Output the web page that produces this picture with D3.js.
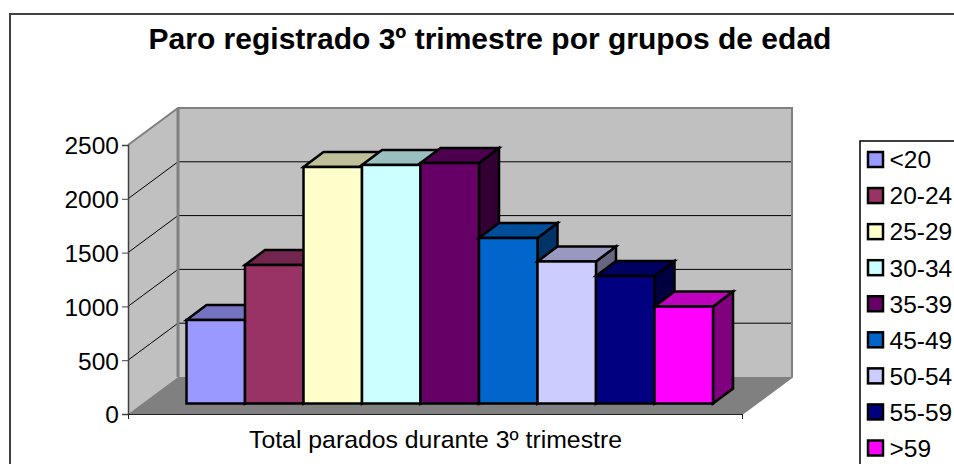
<!DOCTYPE html>
<html>
<head>
<meta charset="utf-8">
<script src="https://cdn.jsdelivr.net/npm/d3@7"></script>
<style>
html, body { margin: 0; padding: 0; background: #fff; overflow: hidden; }
text { font-family: "Liberation Sans", Arial, sans-serif; fill: #000; }
</style>
</head>
<body>
<div id="chart"></div>
<script>
var ageGroups = ["<20", "20-24", "25-29", "30-34", "35-39", "45-49", "50-54", "55-59", ">59"];
var parados = [776, 1287, 2198, 2217, 2235, 1538, 1320, 1185, 901];
var barColors = ["#9999FF", "#993366", "#FFFFCC", "#CCFFFF", "#660066", "#0066CC", "#CCCCFF", "#000080", "#FF00FF"];
var yTicks = [0, 500, 1000, 1500, 2000, 2500];

var svg = d3.select("#chart").append("svg")
	.attr("width", 954)
	.attr("height", 464);

// frame
svg.append("path")
	.attr("d", "M10,464V14H954")
	.attr("fill", "none")
	.attr("stroke", "#404040")
	.attr("stroke-width", 2);

svg.append("text")
	.attr("x", 490)
	.attr("y", 49)
	.attr("text-anchor", "middle")
	.style("font-size", "30px")
	.style("font-weight", "bold")
	.text("Paro registrado 3º trimestre por grupos de edad");

var y = d3.scaleLinear().domain([0, 2500]).range([414, 145]);
var xFront = d3.scaleLinear().domain([0, 1]).range([128, 742]);
var xBars = d3.scaleBand().domain(ageGroups).range([186.5, 713]);

// wall depth and bar depth
var wallDx = 50, wallDy = -37;
var barDx = 20, barDy = -15;
var barLift = 10.5;

// walls and floor
svg.append("path")
	.attr("d", d3.line()([[128, y(2500)], [128 + wallDx, y(2500) + wallDy], [128 + wallDx, y(0) + wallDy], [128, y(0)]]) + "Z")
	.attr("fill", "#C0C0C0");
svg.append("rect")
	.attr("x", 128 + wallDx)
	.attr("y", y(2500) + wallDy)
	.attr("width", 614)
	.attr("height", y(0) - y(2500))
	.attr("fill", "#C0C0C0");
svg.append("path")
	.attr("d", d3.line()([[128, y(0)], [128 + wallDx, y(0) + wallDy], [742 + wallDx, y(0) + wallDy], [742, y(0)]]) + "Z")
	.attr("fill", "#808080");

// gridlines on both walls
svg.selectAll("path.grid")
	.data(yTicks.slice(1, 5))
	.enter()
	.append("path")
	.attr("class", "grid")
	.attr("fill", "none")
	.attr("stroke", "#000")
	.attr("stroke-width", 1)
	.attr("d", function (d) {
		return d3.line()([[128, y(d)], [128 + wallDx, y(d) + wallDy], [742 + wallDx, y(d) + wallDy]]);
	});

// grey wall edges
svg.append("path")
	.attr("d", d3.line()([[128, y(2500)], [128 + wallDx, y(2500) + wallDy], [742 + wallDx, y(2500) + wallDy], [742 + wallDx, y(0) + wallDy], [742, y(0)]]))
	.attr("fill", "none")
	.attr("stroke", "#808080")
	.attr("stroke-width", 2);
svg.append("line")
	.attr("x1", 128 + wallDx)
	.attr("x2", 128 + wallDx)
	.attr("y1", y(2500) + wallDy)
	.attr("y2", y(0) + wallDy)
	.attr("stroke", "#808080")
	.attr("stroke-width", 3);

function shade(color, k) {
	var c = d3.rgb(color);
	return d3.rgb(c.r * k, c.g * k, c.b * k).formatHex();
}

// bars, left to right so each one covers the side of the previous
var bars = svg.selectAll("g.bar")
	.data(ageGroups)
	.enter()
	.append("g")
	.attr("class", "bar")
	.attr("stroke", "#000")
	.attr("stroke-width", 2.5)
	.attr("stroke-linejoin", "miter");

bars.append("path")
	.attr("fill", function (d, i) { return shade(barColors[i], 0.5); })
	.attr("d", function (d, i) {
		var x1 = xBars(d) + xBars.bandwidth(), top = y(parados[i]) - barLift, base = y(0) - barLift;
		return d3.line()([[x1, top], [x1 + barDx, top + barDy], [x1 + barDx, base + barDy], [x1, base]]) + "Z";
	});
bars.append("path")
	.attr("fill", function (d, i) { return shade(barColors[i], 0.75); })
	.attr("d", function (d, i) {
		var x0 = xBars(d), x1 = x0 + xBars.bandwidth(), top = y(parados[i]) - barLift;
		return d3.line()([[x0, top], [x0 + barDx, top + barDy], [x1 + barDx, top + barDy], [x1, top]]) + "Z";
	});
bars.append("rect")
	.attr("x", function (d) { return xBars(d); })
	.attr("y", function (d, i) { return y(parados[i]) - barLift; })
	.attr("width", xBars.bandwidth())
	.attr("height", function (d, i) { return y(0) - y(parados[i]); })
	.attr("fill", function (d, i) { return barColors[i]; });

// axes
var yAxis = d3.axisLeft(y).tickValues(yTicks).tickFormat(d3.format("d")).tickSize(6).tickPadding(3);
var gy = svg.append("g").attr("transform", "translate(128,0)").call(yAxis);
gy.selectAll("text").style("font-size", "24.5px").attr("dy", "0.36em");
gy.selectAll("line,path").attr("stroke", "#404040");
gy.select("path").attr("stroke-width", 1.5);

var xAxis = d3.axisBottom(xFront).tickValues([0, 1]).tickFormat("").tickSize(5);
var gx = svg.append("g").attr("transform", "translate(0,414)").call(xAxis);
gx.selectAll("line,path").attr("stroke", "#202020");

svg.append("text")
	.attr("x", 435.5)
	.attr("y", 448)
	.attr("text-anchor", "middle")
	.style("font-size", "24.8px")
	.text("Total parados durante 3º trimestre");

// legend
svg.append("path")
	.attr("d", "M954,141H860V464")
	.attr("fill", "none")
	.attr("stroke", "#000")
	.attr("stroke-width", 1.5);

var legendY = d3.scalePoint().domain(ageGroups).range([159.5, 448]);
var legend = svg.selectAll("g.legend")
	.data(ageGroups)
	.enter()
	.append("g")
	.attr("class", "legend")
	.attr("transform", function (d) { return "translate(868," + legendY(d) + ")"; });
legend.append("rect")
	.attr("x", 0)
	.attr("y", -7.5)
	.attr("width", 15)
	.attr("height", 15)
	.attr("fill", function (d, i) { return barColors[i]; })
	.attr("stroke", "#000")
	.attr("stroke-width", 2.5);
legend.append("text")
	.attr("x", 21.5)
	.attr("y", 0)
	.attr("dy", "0.36em")
	.style("font-size", "24.5px")
	.text(function (d) { return d; });
</script>
</body>
</html>
